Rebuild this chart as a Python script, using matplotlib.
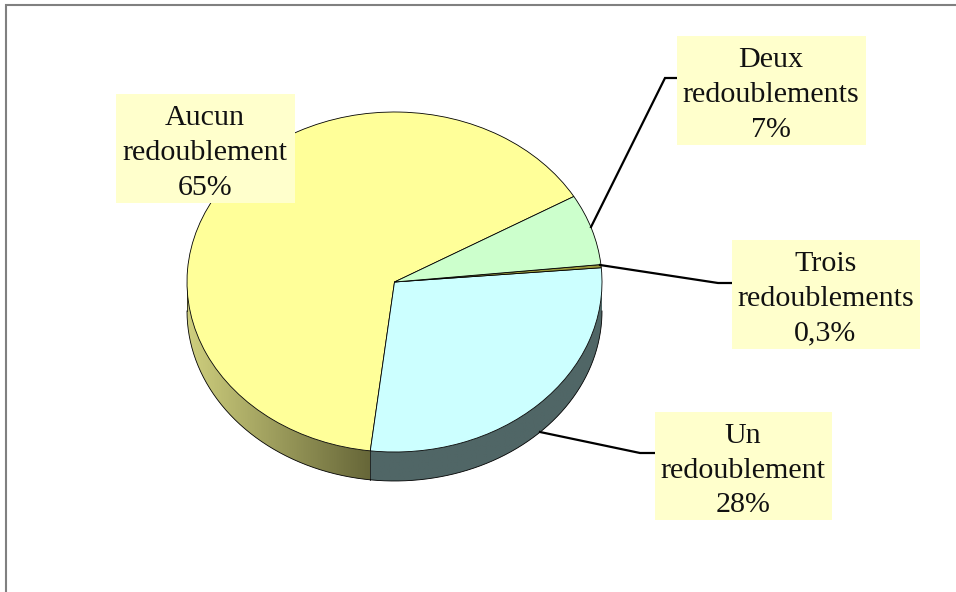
import numpy as np
import matplotlib
matplotlib.use("Agg")
import matplotlib.pyplot as plt
from matplotlib.colors import LinearSegmentedColormap
from matplotlib.patches import Rectangle, Polygon

W, H = 956, 592
categories = ["Aucun\nredoublement", "Un\nredoublement", "Trois\nredoublements", "Deux\nredoublements"]
values = [64.75, 28.2, 0.3, 6.75]
pct_labels = ["65%", "28%", "0,3%", "7%"]
top_colors = ["#FFFF99", "#CCFFFF", "#99993C", "#CCFFCC"]
side_left = ["#CFCF7E", "#506666", "#666633", "#667F66"]
side_right = ["#666638", "#506666", "#666633", "#667F66"]

CX, CY, RX, RY, DEPTH = 394.5, 282.0, 207.5, 170.0, 29.0

fig = plt.figure(figsize=(W / 100, H / 100), dpi=100, facecolor="white")
ax = fig.add_axes([0, 0, 1, 1], zorder=1)
wedges, _ = ax.pie(values, startangle=30.2, counterclock=True, colors=top_colors,
                   wedgeprops=dict(edgecolor="black", linewidth=0.6), radius=1)
for w in wedges:
    w.set_zorder(5)

# extruded rim, derived from the wedge angles
d = DEPTH / RY
for w, cl, cr in zip(wedges, side_left, side_right):
    a1 = w.theta1 % 360
    a2 = a1 + (w.theta2 - w.theta1)
    lo, hi = max(a1, 180), min(a2, 360)
    if hi <= lo:
        continue
    th = np.radians(np.linspace(lo, hi, 200))
    xs = np.cos(th)
    ys = np.sin(th)
    outline = np.column_stack([np.r_[xs, xs[::-1]], np.r_[ys, ys[::-1] - d]])
    poly = Polygon(outline, closed=True, facecolor="none", edgecolor="none", transform=ax.transData)
    ax.add_patch(poly)
    cmap = LinearSegmentedColormap.from_list("rim", [cl, cr])
    img = ax.imshow(np.linspace(0, 1, 256)[None, :], cmap=cmap, aspect="auto", zorder=2,
                    extent=(xs.min(), xs.max(), ys.min() - d, ys.max()), interpolation="bilinear")
    img.set_clip_path(poly)
    ax.plot(xs, ys - d, color="black", lw=0.6, zorder=3)
    ax.plot([xs[0], xs[0]], [ys[0], ys[0] - d], color="black", lw=0.5, zorder=3)

ax.set_aspect("auto")
ax.set_xlim(-CX / RX, (W - CX) / RX)
ax.set_ylim((CY - H) / RY, CY / RY)
ax.set_axis_off()

# overlay in pixel coordinates for callouts and frame
ov = fig.add_axes([0, 0, 1, 1], zorder=2)
ov.set_xlim(0, W)
ov.set_ylim(H, 0)
ov.set_axis_off()
ov.patch.set_alpha(0)

boxes = [(116, 94, 179, 109), (655, 412, 177, 108), (732, 240, 188, 109), (677, 36, 189, 109)]
leaders = [None,
           [(540, 432), (640, 453), (655, 453)],
           [(600, 265), (718, 283), (732, 283)],
           [(591, 227), (665, 78), (677, 78)]]
for cat, pct, (x, y, w, h), pts in zip(categories, pct_labels, boxes, leaders):
    if pts:
        ov.plot(*zip(*pts), color="black", lw=1.6, solid_joinstyle="miter", zorder=1)
    ov.add_patch(Rectangle((x, y), w, h, facecolor="#FFFFCC", edgecolor="none", zorder=2))
    ov.text(x + w / 2 - 0.5, y + h / 2 + 4.5, f"{cat}\n{pct}", ha="center", va="center",
            family="Liberation Serif", fontsize=21.6, linespacing=1.43, color="#111111", zorder=3)

ov.plot([6.5, 6.5, W], [H, 4.5, 4.5], color="#808080", lw=1.5, solid_joinstyle="miter", clip_on=False)

fig.savefig("out.png", dpi=100)
